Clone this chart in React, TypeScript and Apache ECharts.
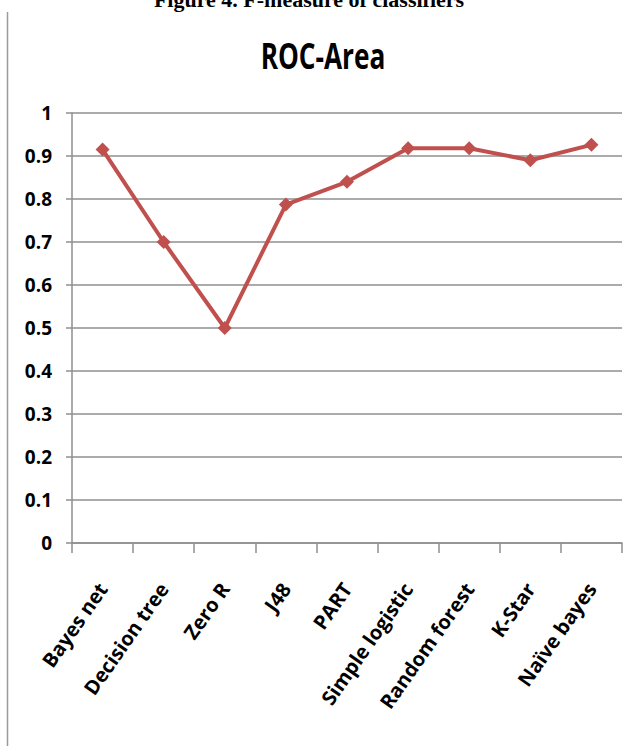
import React, { useEffect, useRef } from "react";
import * as echarts from "echarts";

const categories = ["Bayes net", "Decision tree", "Zero R", "J48", "PART", "Simple logistic", "Random forest", "K-Star", "Naïve bayes"];
const rocArea = [0.915, 0.70, 0.50, 0.787, 0.84, 0.918, 0.918, 0.89, 0.926];
const yTicks = [0, 0.1, 0.2, 0.3, 0.4, 0.5, 0.6, 0.7, 0.8, 0.9, 1];

const FONT = '"Open Sans", "Liberation Sans", sans-serif';

export default function App() {
  const ref = useRef<HTMLDivElement>(null);
  useEffect(() => {
    document.body.style.margin = "0";
    const chart = echarts.init(ref.current!, undefined, { renderer: "svg" });
    chart.setOption({
      animation: false,
      backgroundColor: "#ffffff",
      grid: { left: 72, right: 9, top: 113, bottom: 203, containLabel: false },
      graphic: [
        {
          type: "text",
          x: 309,
          y: -1,
          style: {
            text: "Figure 4. F-measure of classifiers",
            font: 'bold 22px "Liberation Serif", "Times New Roman", serif',
            fill: "#000",
            align: "center",
            verticalAlign: "middle",
          },
        },
        {
          type: "line",
          shape: { x1: 7.5, y1: 12, x2: 7.5, y2: 746 },
          style: { stroke: "#9a9a9a", lineWidth: 1.5 },
        },
        {
          type: "text",
          x: 323,
          y: 55,
          scaleX: 0.75,
          style: {
            text: "ROC-Area",
            font: "bold 35px " + FONT,
            fill: "#000",
            align: "center",
            verticalAlign: "middle",
          },
        },
      ],
      xAxis: {
        type: "category",
        data: categories,
        boundaryGap: true,
        axisLine: { lineStyle: { color: "#8f8f8f", width: 1.5 } },
        axisTick: { show: true, alignWithLabel: false, length: 10, lineStyle: { color: "#8f8f8f", width: 1.5 } },
        axisLabel: {
          interval: 0,
          rotate: 55,
          margin: 42,
          color: "#000",
          fontWeight: "bold",
          fontSize: 20,
          fontFamily: FONT,
        },
        splitLine: { show: false },
      },
      yAxis: {
        type: "value",
        min: 0,
        max: 1,
        interval: 0.1,
        axisLine: { show: true, lineStyle: { color: "#8f8f8f", width: 1.5 } },
        axisTick: { show: true, length: 6, lineStyle: { color: "#8f8f8f", width: 1.5 } },
        axisLabel: {
          margin: 20,
          color: "#000",
          fontWeight: "bold",
          fontSize: 19,
          fontFamily: FONT,
          formatter: (v: number) => {
            const t = yTicks.find((x) => Math.abs(x - v) < 1e-9);
            return t === undefined ? "" : String(Math.round(t * 10) / 10);
          },
        },
        splitLine: { show: true, lineStyle: { color: "#8f8f8f", width: 1.5 } },
      },
      series: [
        {
          type: "line",
          data: rocArea,
          symbol: "diamond",
          symbolSize: 14,
          itemStyle: { color: "#c0504d" },
          lineStyle: { color: "#c0504d", width: 4 },
        },
      ],
    });
    return () => chart.dispose();
  }, []);
  return <div ref={ref} style={{ width: 631, height: 746 }} />;
}
